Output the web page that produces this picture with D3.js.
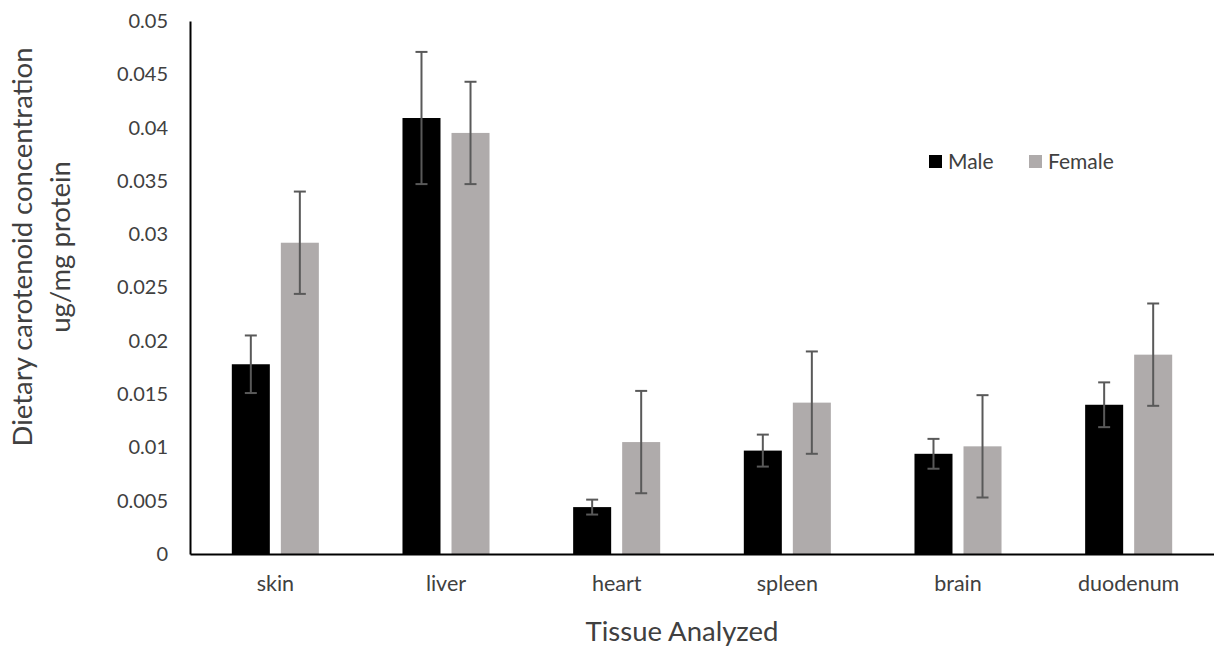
<!DOCTYPE html>
<html lang="en">
<head>
  <meta charset="UTF-8" />
  <title>Dietary carotenoid concentration by tissue</title>
  <script src="https://cdn.jsdelivr.net/npm/d3@7"></script>
  <style>
    body {
      margin: 0;
      background-color: #ffffff;
      font-family: Lato, "Open Sans", sans-serif;
    }
    svg text {
      fill: #404040;
    }
  </style>
</head>
<body>
  <div id="chart"></div>

  <script>
    // Data
    const tissues = ["skin", "liver", "heart", "spleen", "brain", "duodenum"];
    const groups = ["Male", "Female"];
    const maleMean = [0.0178, 0.0409, 0.0044, 0.0097, 0.0094, 0.0140];
    const maleErr = [0.0027, 0.0062, 0.0007, 0.0015, 0.0014, 0.0021];
    const femaleMean = [0.0292, 0.0395, 0.0105, 0.0142, 0.0101, 0.0187];
    const femaleErr = [0.0048, 0.0048, 0.0048, 0.0048, 0.0048, 0.0048];
    const yTicks = [0, 0.005, 0.01, 0.015, 0.02, 0.025, 0.03, 0.035, 0.04, 0.045, 0.05];
    const yTickLabels = ["0", "0.005", "0.01", "0.015", "0.02", "0.025", "0.03", "0.035", "0.04", "0.045", "0.05"];
    const colors = { Male: "#000000", Female: "#afabab" };

    const rows = tissues.map((t, i) => ({
      tissue: t,
      values: [
        { group: "Male", mean: maleMean[i], err: maleErr[i] },
        { group: "Female", mean: femaleMean[i], err: femaleErr[i] }
      ]
    }));

    const width = 1214, height = 650;
    const margin = { top: 21, right: 0, bottom: 96, left: 190 };

    const svg = d3.select("#chart")
      .append("svg")
        .attr("width", width)
        .attr("height", height);

    // Scales
    const x0 = d3.scaleBand()
      .domain(tissues)
      .range([margin.left, width - margin.right])
      .paddingInner(0.49)
      .paddingOuter(0.245);

    const x1 = d3.scaleBand()
      .domain(groups)
      .range([0, x0.bandwidth()])
      .paddingInner(0.2245);

    const y = d3.scaleLinear()
      .domain([0, 0.05])
      .range([height - margin.bottom, margin.top]);

    // Y axis
    const yAxis = svg.append("g")
      .attr("transform", `translate(${margin.left},0)`)
      .call(d3.axisLeft(y)
        .tickValues(yTicks)
        .tickFormat((d, i) => yTickLabels[i])
        .tickSize(0)
        .tickSizeOuter(0)
        .tickPadding(22));
    yAxis.select(".domain").attr("stroke", "#000").attr("stroke-width", 2);
    yAxis.selectAll("text")
      .attr("font-family", "Lato, 'Open Sans', sans-serif")
      .attr("font-size", 20)
      .attr("fill", "#404040");

    // Bars
    const groupsG = svg.append("g")
      .selectAll("g")
      .data(rows)
      .join("g")
        .attr("transform", d => `translate(${x0(d.tissue)},0)`);

    groupsG.selectAll("rect")
      .data(d => d.values)
      .join("rect")
        .attr("x", d => x1(d.group))
        .attr("y", d => y(d.mean))
        .attr("width", x1.bandwidth())
        .attr("height", d => y(0) - y(d.mean))
        .attr("fill", d => colors[d.group]);

    // Error bars
    const errG = groupsG.selectAll("g.err")
      .data(d => d.values)
      .join("g")
        .attr("class", "err")
        .attr("transform", d => `translate(${x1(d.group) + x1.bandwidth() / 2},0)`)
        .attr("stroke", "#595959")
        .attr("stroke-width", 2);

    errG.append("line")
      .attr("x1", 0).attr("x2", 0)
      .attr("y1", d => y(d.mean + d.err))
      .attr("y2", d => y(d.mean - d.err));
    errG.append("line")
      .attr("x1", -6).attr("x2", 6)
      .attr("y1", d => y(d.mean + d.err))
      .attr("y2", d => y(d.mean + d.err));
    errG.append("line")
      .attr("x1", -6).attr("x2", 6)
      .attr("y1", d => y(d.mean - d.err))
      .attr("y2", d => y(d.mean - d.err));

    // X axis
    const xAxis = svg.append("g")
      .attr("transform", `translate(0,${y(0)})`)
      .call(d3.axisBottom(x0).tickSize(0).tickSizeOuter(0).tickPadding(22));
    xAxis.select(".domain").attr("stroke", "#000").attr("stroke-width", 2);
    xAxis.selectAll("text")
      .attr("font-family", "Lato, 'Open Sans', sans-serif")
      .attr("font-size", 21.5)
      .attr("fill", "#404040");

    // Axis titles
    svg.append("text")
      .attr("x", 682)
      .attr("y", 641)
      .attr("text-anchor", "middle")
      .attr("font-size", 27.5)
      .text("Tissue Analyzed");

    const yTitle = svg.append("g")
      .attr("transform", "translate(0,247) rotate(-90)")
      .attr("text-anchor", "middle")
      .attr("font-size", 27.5);
    yTitle.append("text").attr("x", 0).attr("y", 32).text("Dietary carotenoid concentration");
    yTitle.append("text").attr("x", 0).attr("y", 70).text("ug/mg protein");

    // Legend
    const legend = svg.append("g")
      .attr("transform", "translate(929,155)");
    const legendItems = legend.selectAll("g")
      .data(groups)
      .join("g")
        .attr("transform", (d, i) => `translate(${i * 100},0)`);
    legendItems.append("rect")
      .attr("width", 13)
      .attr("height", 13)
      .attr("fill", d => colors[d]);
    legendItems.append("text")
      .attr("x", 19)
      .attr("y", 14)
      .attr("font-size", 21)
      .text(d => d);
  </script>
</body>
</html>
